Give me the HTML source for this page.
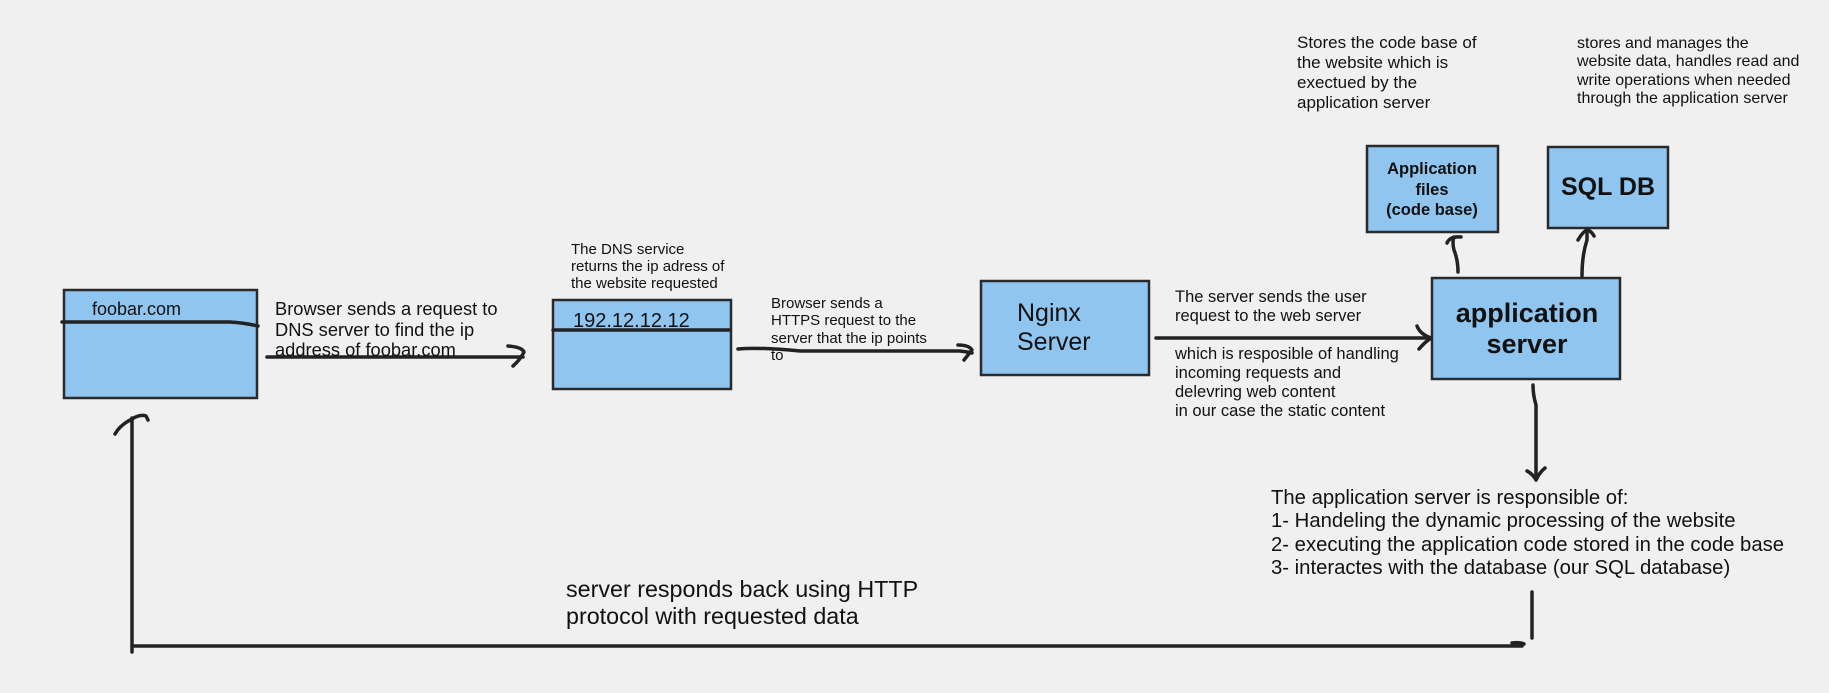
<!DOCTYPE html>
<html><head><meta charset="utf-8"><style>
html,body{margin:0;padding:0;background:#f0f0f0;}
svg{display:block;font-family:"Liberation Sans",sans-serif;}
</style></head><body>
<svg width="1829" height="693" viewBox="0 0 1829 693" xmlns="http://www.w3.org/2000/svg">
<rect width="1829" height="693" fill="#f0f0f0"/>
<g fill="#8fc5ef" stroke="#2a2a2a" stroke-width="2.5">
<rect x="64" y="290" width="193" height="108"/>
<rect x="553" y="300" width="178" height="89"/>
<rect x="981" y="281" width="168" height="94"/>
<rect x="1432" y="278" width="188" height="101"/>
<rect x="1367" y="146" width="131" height="86"/>
<rect x="1548" y="147" width="120" height="81"/>
</g>
<g fill="none" stroke="#222" stroke-width="3.5" stroke-linecap="round" stroke-linejoin="round">
<path d="M62 322 L230 322 Q245 323 258 326"/>
<path d="M553 330 L729 330"/>
<path d="M267 357 L523 357"/>
<path d="M508 346 Q522 347 524 352 Q520 360 513 366"/>
<path d="M738 349 Q760 347 800 351 L960 351 Q968 352 972 353"/>
<path d="M958 345 Q969 345 972 350 Q968 355 964 360"/>
<path d="M1156 338 L1431 338"/>
<path d="M1417 326 Q1420 334 1431 338 Q1425 342 1419 349"/>
<path d="M1458 272 Q1458 260 1454 250 Q1452 242 1454 237"/>
<path d="M1447 243 Q1450 236 1461 237"/>
<path d="M1582 276 Q1582 255 1587 240 L1587 231"/>
<path d="M1578 240 Q1584 230 1588 230 Q1592 232 1594 236"/>
<path d="M1533 385 Q1533 395 1536 405 L1536 478"/>
<path d="M1527 471 Q1533 474 1536 480 Q1539 473 1545 468"/>
<path d="M1532 592 L1532 638"/>
<path d="M1522 646 L132 646"/>
<path d="M1512 643 Q1520 642 1524 644"/>
<path d="M132 652 L132 418"/>
<path d="M115 434 Q120 425 132 419 Q140 414 146 416 L148 420"/>
</g>
<g fill="#111">
<text x="92" y="315" font-size="18">foobar.com</text>
<text font-size="18.3"><tspan x="275" y="315">Browser sends a request to</tspan><tspan x="275" y="336">DNS server to find the ip</tspan><tspan x="275" y="356">address of foobar.com</tspan></text>
<text x="573" y="327" font-size="20">192.12.12.12</text>
<text font-size="15"><tspan x="571" y="254">The DNS service</tspan><tspan x="571" y="271">returns the ip adress of</tspan><tspan x="571" y="288">the website requested</tspan></text>
<text font-size="15"><tspan x="771" y="308">Browser sends a</tspan><tspan x="771" y="325">HTTPS request to the</tspan><tspan x="771" y="343">server that the ip points</tspan><tspan x="771" y="360">to</tspan></text>
<text font-size="25"><tspan x="1017" y="321">Nginx</tspan><tspan x="1017" y="350">Server</tspan></text>
<text font-size="16.5"><tspan x="1175" y="302">The server sends the user</tspan><tspan x="1175" y="321">request to the web server</tspan><tspan x="1175" y="359">which is resposible of handling</tspan><tspan x="1175" y="378">incoming requests and</tspan><tspan x="1175" y="397">delevring web content</tspan><tspan x="1175" y="416">in our case the static content</tspan></text>
<text font-size="27" font-weight="bold" text-anchor="middle"><tspan x="1527" y="322">application</tspan><tspan x="1527" y="353">server</tspan></text>
<text font-size="16.5" font-weight="bold" text-anchor="middle"><tspan x="1432" y="174">Application</tspan><tspan x="1432" y="195">files</tspan><tspan x="1432" y="215">(code base)</tspan></text>
<text x="1608" y="195" font-size="25" font-weight="bold" text-anchor="middle">SQL DB</text>
<text font-size="17"><tspan x="1297" y="48">Stores the code base of</tspan><tspan x="1297" y="68">the website which is</tspan><tspan x="1297" y="88">exectued by the</tspan><tspan x="1297" y="108">application server</tspan></text>
<text font-size="16"><tspan x="1577" y="48">stores and manages the</tspan><tspan x="1577" y="66">website data, handles read and</tspan><tspan x="1577" y="85">write operations when needed</tspan><tspan x="1577" y="103">through the application server</tspan></text>
<text font-size="20.3"><tspan x="1271" y="504">The application server is responsible of:</tspan><tspan x="1271" y="527">1- Handeling the dynamic processing of the website</tspan><tspan x="1271" y="551">2- executing the application code stored in the code base</tspan><tspan x="1271" y="574">3- interactes with the database (our SQL database)</tspan></text>
<text font-size="23.3"><tspan x="566" y="597">server responds back using HTTP</tspan><tspan x="566" y="624">protocol with requested data</tspan></text>
</g>
</svg>
</body></html>
